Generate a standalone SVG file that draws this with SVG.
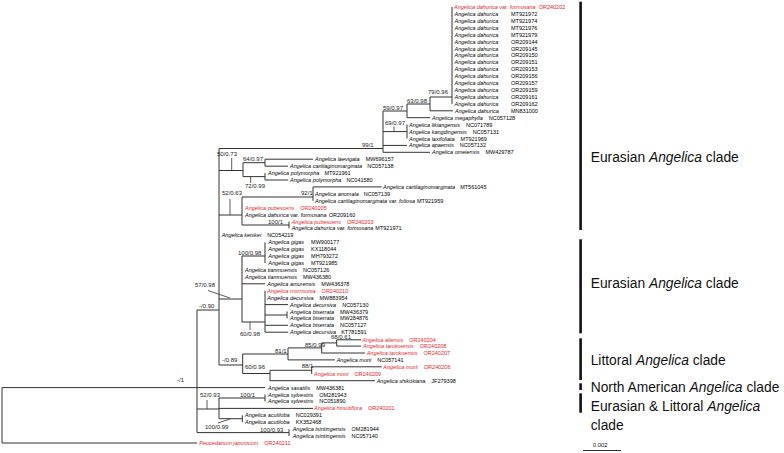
<svg xmlns="http://www.w3.org/2000/svg" width="784" height="453" viewBox="0 0 784 453">
<style>
.br{fill:none;stroke:#333;stroke-width:1}
.ld{fill:none;stroke:#333;stroke-width:0.8}
.lf{font-family:"Liberation Sans",Arial,sans-serif;font-size:5.5px;fill:#000}
.r{fill:#e3262b}
.it{font-style:italic}
.sp{font-family:"Liberation Sans",Arial,sans-serif;font-size:6px;fill:#222}
.cl{font-family:"Liberation Sans",Arial,sans-serif;font-size:13.8px;fill:#111}
.bar{fill:#111}
</style>
<rect width="784" height="453" fill="#fff"/>
<g id="branches">
<path class="br" d="M452 7V103.9M430 97H452M430 97V110.8M430 110.8H453M407 104H430M407 104V117.7H430M383 111H407M383 131.6H407M407 124.6V138.5M383 145.4H407M383 152.3H430M383 111V152.3M219 148.5H383"/>
<path class="br" d="M265 159.2H313M265 166.2H288M265 159.2V166.2M243 162.7H265M265 173.1V180H288M243 176.6H265M243 162.7V176.6M219 170.5H243"/>
<path class="br" d="M313 186.9H381.7M313 186.9V200.8M242 197H313M289 221.5V228.4M242 225H289M242 197V225M219 215H242"/>
<path class="br" d="M265 242.3V263M242 256H265M242 283.8H265M265 290.7V332.2M265 304.6H288M287 311.5V318.4M265 315H287M265 325.3H288M265 332.2H288M242 322H265M242 256V322M219 299H242"/>
<path class="br" d="M219 148.5V365"/>
<path class="br" d="M336.7 339.8H361M336.7 346.1H361M336.7 339.8V346.1M321.7 342.9H336.7M321.7 353H365M321.7 342.9V353M288 347.9H321.7M288 359.9H335M288 347.9V359.9M242.7 354H288M311.7 366.8H381.7M311.7 366.8V373.8M270 370.3H311.7M270 380.7H375M270 370.3V380.7M242.7 373.5H270M242.7 354V373.5M219 365H242.7"/>
<path class="br" d="M197 310H219M197 387.6H265M265 394.5V401.4M219 398H265M219 408.4H313M242.3 415.3V422.2M219 418.7H242.3M219 398V418.7M197 409H219M289 429.1V436M197 432.6H289M197 310V432.6M2 387.6H197M2 387.6V443H197"/>
<path class="ld" d="M394 126.5V131.6M231.7 158V170.5M250.7 176.6V183M230 199V215M208 290.5L230 298M250 322V330M207 400V409M218 423L230 419"/>
</g>
<g id="supports">
<text class="sp" x="428" y="94">79/0.96</text>
<text class="sp" x="407" y="102.5">63/0.98</text>
<text class="sp" x="383" y="110">59/0.97</text>
<text class="sp" x="385" y="124.5">69/0.97</text>
<text class="sp" x="362" y="147">99/1</text>
<text class="sp" x="217" y="156">50/0.73</text>
<text class="sp" x="243" y="160.5">64/0.97</text>
<text class="sp" x="245" y="188">72/0.99</text>
<text class="sp" x="222" y="195">52/0.63</text>
<text class="sp" x="301" y="195">92/1</text>
<text class="sp" x="268" y="223.5">100/1</text>
<text class="sp" x="238" y="254.5">100/0.98</text>
<text class="sp" x="195" y="287">57/0.98</text>
<text class="sp" x="199" y="307.5">-/0.90</text>
<text class="sp" x="240" y="335.5">60/0.98</text>
<text class="sp" x="331" y="339">68/0.61</text>
<text class="sp" x="305" y="346.5">85/0.99</text>
<text class="sp" x="275" y="353">81/1</text>
<text class="sp" x="222" y="362">-/0.89</text>
<text class="sp" x="245" y="368.5">60/0.96</text>
<text class="sp" x="301.7" y="368">88/1</text>
<text class="sp" x="177" y="382">-/1</text>
<text class="sp" x="200" y="397">52/0.93</text>
<text class="sp" x="240" y="397">100/1</text>
<text class="sp" x="205" y="429">100/0.99</text>
<text class="sp" x="260" y="431.5">100/0.93</text>
</g>
<g id="t0"><text class="lf r" x="454" y="9"><tspan class="it">Angelica dahurica</tspan> var. <tspan class="it">formosana</tspan><tspan dx="3">OR240202</tspan></text></g>
<g id="t1"><text class="lf" x="454.5" y="15.9"><tspan class="it">Angelica dahurica</tspan><tspan x="511">MT921972</tspan></text></g>
<g id="t2"><text class="lf" x="454.5" y="22.8"><tspan class="it">Angelica dahurica</tspan><tspan x="511">MT921974</tspan></text></g>
<g id="t3"><text class="lf" x="454.5" y="29.8"><tspan class="it">Angelica dahurica</tspan><tspan x="511">MT921976</tspan></text></g>
<g id="t4"><text class="lf" x="454.5" y="36.7"><tspan class="it">Angelica dahurica</tspan><tspan x="511">MT921979</tspan></text></g>
<g id="t5"><text class="lf" x="454.5" y="43.6"><tspan class="it">Angelica dahurica</tspan><tspan x="511">OR209144</tspan></text></g>
<g id="t6"><text class="lf" x="454.5" y="50.5"><tspan class="it">Angelica dahurica</tspan><tspan x="511">OR209145</tspan></text></g>
<g id="t7"><text class="lf" x="454.5" y="57.4"><tspan class="it">Angelica dahurica</tspan><tspan x="511">OR209150</tspan></text></g>
<g id="t8"><text class="lf" x="454.5" y="64.4"><tspan class="it">Angelica dahurica</tspan><tspan x="511">OR209151</tspan></text></g>
<g id="t9"><text class="lf" x="454.5" y="71.3"><tspan class="it">Angelica dahurica</tspan><tspan x="511">OR209153</tspan></text></g>
<g id="t10"><text class="lf" x="454.5" y="78.2"><tspan class="it">Angelica dahurica</tspan><tspan x="511">OR209156</tspan></text></g>
<g id="t11"><text class="lf" x="454.5" y="85.1"><tspan class="it">Angelica dahurica</tspan><tspan x="511">OR209157</tspan></text></g>
<g id="t12"><text class="lf" x="454.5" y="92"><tspan class="it">Angelica dahurica</tspan><tspan x="511">OR209159</tspan></text></g>
<g id="t13"><text class="lf" x="454.5" y="99"><tspan class="it">Angelica dahurica</tspan><tspan x="511">OR209161</tspan></text></g>
<g id="t14"><text class="lf" x="454.5" y="105.9"><tspan class="it">Angelica dahurica</tspan><tspan x="511">OR209162</tspan></text></g>
<g id="t15"><text class="lf" x="455" y="112.8"><tspan class="it">Angelica dahurica</tspan><tspan x="511">MN831000</tspan></text></g>
<g id="t16"><text class="lf" x="432" y="119.7"><tspan class="it">Angelica megaphylla</tspan><tspan dx="6">NC057128</tspan></text></g>
<g id="t17"><text class="lf" x="409" y="126.6"><tspan class="it">Angelica likiangensis</tspan><tspan dx="6">NC071789</tspan></text></g>
<g id="t18"><text class="lf" x="409" y="133.6"><tspan class="it">Angelica kangdingensis</tspan><tspan dx="6">NC057131</tspan></text></g>
<g id="t19"><text class="lf" x="409" y="140.5"><tspan class="it">Angelica laxifoliata</tspan><tspan dx="6">MT921969</tspan></text></g>
<g id="t20"><text class="lf" x="409" y="147.4"><tspan class="it">Angelica apaensis</tspan><tspan dx="6">NC057132</tspan></text></g>
<g id="t21"><text class="lf" x="432" y="154.3"><tspan class="it">Angelica omeiensis</tspan><tspan dx="6">MW429787</tspan></text></g>
<g id="t22"><text class="lf" x="315" y="161.2"><tspan class="it">Angelica laevigata</tspan><tspan dx="6">MW696157</tspan></text></g>
<g id="t23"><text class="lf" x="290" y="168.2"><tspan class="it">Angelica cartilaginomarginata</tspan><tspan dx="5">NC057138</tspan></text></g>
<g id="t24"><text class="lf" x="268" y="175.1"><tspan class="it">Angelica polymorpha</tspan><tspan dx="5">MT921961</tspan></text></g>
<g id="t25"><text class="lf" x="290" y="182"><tspan class="it">Angelica polymorpha</tspan><tspan dx="5">NC041580</tspan></text></g>
<g id="t26"><text class="lf" x="383" y="188.9"><tspan class="it">Angelica cartilaginomarginata</tspan><tspan dx="5">MT561045</tspan></text></g>
<g id="t27"><text class="lf" x="315" y="195.8"><tspan class="it">Angelica anomala</tspan><tspan dx="5">NC057139</tspan></text></g>
<g id="t28"><text class="lf" x="315" y="202.8"><tspan class="it">Angelica cartilaginomarginata</tspan> var. <tspan class="it">foliosa</tspan><tspan dx="2">MT921959</tspan></text></g>
<g id="t29"><text class="lf r" x="245" y="209.7"><tspan class="it">Angelica pubescens</tspan><tspan dx="6">OR240205</tspan></text></g>
<g id="t30"><text class="lf" x="245" y="216.6"><tspan class="it">Angelica dahurica</tspan> var. <tspan class="it">formosana</tspan><tspan dx="2">OR209160</tspan></text></g>
<g id="t31"><text class="lf r" x="291.7" y="223.5"><tspan class="it">Angelica pubescens</tspan><tspan dx="6">OR240203</tspan></text></g>
<g id="t32"><text class="lf" x="291.7" y="230.4"><tspan class="it">Angelica dahurica</tspan> var. <tspan class="it">formosana</tspan><tspan dx="2">MT921971</tspan></text></g>
<g id="t33"><text class="lf" x="221.7" y="237.4"><tspan class="it">Angelica keiskei</tspan><tspan dx="6">NC054219</tspan></text></g>
<g id="t34"><text class="lf" x="268.3" y="244.3"><tspan class="it">Angelica gigas</tspan><tspan dx="7">MW900177</tspan></text></g>
<g id="t35"><text class="lf" x="268.3" y="251.2"><tspan class="it">Angelica gigas</tspan><tspan dx="7">KX118044</tspan></text></g>
<g id="t36"><text class="lf" x="268.3" y="258.1"><tspan class="it">Angelica gigas</tspan><tspan dx="7">MH793272</tspan></text></g>
<g id="t37"><text class="lf" x="268.3" y="265"><tspan class="it">Angelica gigas</tspan><tspan dx="7">MT921985</tspan></text></g>
<g id="t38"><text class="lf" x="245" y="272"><tspan class="it">Angelica tianmuensis</tspan><tspan dx="6">NC057126</tspan></text></g>
<g id="t39"><text class="lf" x="245" y="278.9"><tspan class="it">Angelica tianmuensis</tspan><tspan dx="6">MW436380</tspan></text></g>
<g id="t40"><text class="lf" x="267.3" y="285.8"><tspan class="it">Angelica amurensis</tspan><tspan dx="6">MW436378</tspan></text></g>
<g id="t41"><text class="lf r" x="267.3" y="292.7"><tspan class="it">Angelica morrisonia</tspan><tspan dx="6">OR240210</tspan></text></g>
<g id="t42"><text class="lf" x="267.3" y="299.6"><tspan class="it">Angelica decursiva</tspan><tspan dx="6">MW883954</tspan></text></g>
<g id="t43"><text class="lf" x="290" y="306.6"><tspan class="it">Angelica decursiva</tspan><tspan dx="6">NC057130</tspan></text></g>
<g id="t44"><text class="lf" x="290" y="313.5"><tspan class="it">Angelica biserrata</tspan><tspan dx="6">MW436379</tspan></text></g>
<g id="t45"><text class="lf" x="290" y="320.4"><tspan class="it">Angelica biserrata</tspan><tspan dx="6">MW284876</tspan></text></g>
<g id="t46"><text class="lf" x="290" y="327.3"><tspan class="it">Angelica biserrata</tspan><tspan dx="6">NC057127</tspan></text></g>
<g id="t47"><text class="lf" x="290" y="334.2"><tspan class="it">Angelica decursiva</tspan><tspan dx="5">KT781591</tspan></text></g>
<g id="t48"><text class="lf r" x="362.3" y="341.6"><tspan class="it">Angelica aliensis</tspan><tspan dx="6">OR240204</tspan></text></g>
<g id="t49"><text class="lf r" x="363" y="348.1"><tspan class="it">Angelica tarokoensis</tspan><tspan dx="6">OR240208</tspan></text></g>
<g id="t50"><text class="lf r" x="366.7" y="355"><tspan class="it">Angelica tarokoensis</tspan><tspan dx="6">OR240207</tspan></text></g>
<g id="t51"><text class="lf" x="336.7" y="361.9"><tspan class="it">Angelica morii</tspan><tspan dx="6">NC057141</tspan></text></g>
<g id="t52"><text class="lf r" x="383.3" y="368.8"><tspan class="it">Angelica morii</tspan><tspan dx="6">OR240206</tspan></text></g>
<g id="t53"><text class="lf r" x="314" y="375.8"><tspan class="it">Angelica morii</tspan><tspan dx="6">OR240209</tspan></text></g>
<g id="t54"><text class="lf" x="376.7" y="382.7"><tspan class="it">Angelica shikokiana</tspan><tspan dx="6">JF279398</tspan></text></g>
<g id="t55"><text class="lf" x="268" y="389.6"><tspan class="it">Angelica saxatilis</tspan><tspan dx="6">MW436381</tspan></text></g>
<g id="t56"><text class="lf" x="268" y="396.5"><tspan class="it">Angelica sylvestris</tspan><tspan dx="6">OM281943</tspan></text></g>
<g id="t57"><text class="lf" x="268" y="403.4"><tspan class="it">Angelica sylvestris</tspan><tspan dx="6">NC051890</tspan></text></g>
<g id="t58"><text class="lf r" x="314" y="410.4"><tspan class="it">Angelica hirsutiflora</tspan><tspan dx="6">OR240201</tspan></text></g>
<g id="t59"><text class="lf" x="245" y="417.3"><tspan class="it">Angelica acutiloba</tspan><tspan dx="6">NC029391</tspan></text></g>
<g id="t60"><text class="lf" x="245" y="424.2"><tspan class="it">Angelica acutiloba</tspan><tspan dx="6">KX352468</tspan></text></g>
<g id="t61"><text class="lf" x="292.7" y="431.1"><tspan class="it">Angelica tsintingensis</tspan><tspan dx="6">OM281944</tspan></text></g>
<g id="t62"><text class="lf" x="292.7" y="438"><tspan class="it">Angelica tsintingensis</tspan><tspan dx="6">NC057140</tspan></text></g>
<g id="t63"><text class="lf r" x="199.3" y="445"><tspan class="it">Peucedanum japonicum</tspan><tspan dx="6">OR240211</tspan></text></g>
<g id="clades">
<rect class="bar" x="579.3" y="1.7" width="2.6" height="228.3"/>
<rect class="bar" x="579.3" y="239.3" width="2.6" height="94"/>
<rect class="bar" x="579.3" y="338.3" width="2.6" height="41.7"/>
<rect class="bar" x="579.3" y="383.3" width="2.6" height="6.7"/>
<rect class="bar" x="579.3" y="393.3" width="2.6" height="19.4"/>
<text class="cl" x="590.7" y="161.5">Eurasian <tspan class="it">Angelica</tspan> clade</text>
<text class="cl" x="590.7" y="287.5">Eurasian <tspan class="it">Angelica</tspan> clade</text>
<text class="cl" x="590.7" y="365">Littoral <tspan class="it">Angelica</tspan> clade</text>
<text class="cl" x="590.7" y="392">North American <tspan class="it">Angelica</tspan> clade</text>
<text class="cl" x="590.7" y="411">Eurasian &amp; Littoral <tspan class="it">Angelica</tspan></text>
<text class="cl" x="590.7" y="430">clade</text>
</g>
<g id="scale">
<path class="br" d="M583 450.5H621"/>
<text class="sp" x="592.7" y="447">0.002</text>
</g>
</svg>
